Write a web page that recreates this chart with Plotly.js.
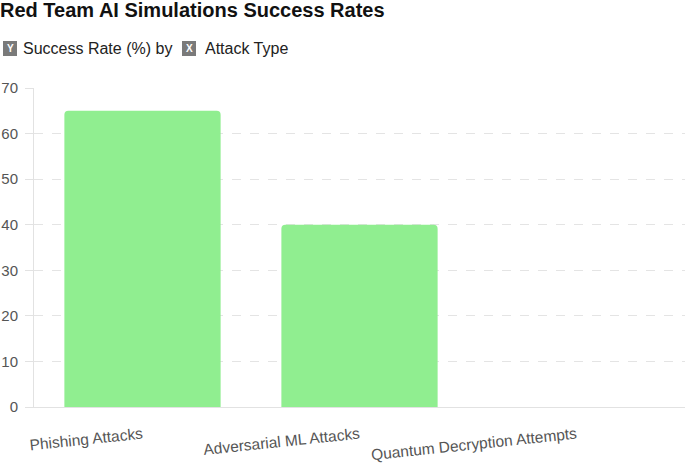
<!DOCTYPE html>
<html>
<head>
<meta charset="utf-8">
<script src="https://cdn.plot.ly/plotly-3.0.1.min.js"></script>
<style>
  html, body { margin: 0; padding: 0; background: #fff; }
  #chart { width: 685px; height: 464px; }
</style>
</head>
<body>
<div id="chart"></div>
<script>
// Attack categories and their simulated success rates (%)
const attackTypes = ["Phishing Attacks", "Adversarial ML Attacks", "Quantum Decryption Attempts"];
const successRates = [65, 40, 0];
const yTicks = [0, 10, 20, 30, 40, 50, 60, 70];

const FONT = "Liberation Sans, Arial, Helvetica, sans-serif";

// plot area geometry used to place the subtitle row in pixels
const W = 685, H = 464;
const M = { l: 34, r: 0, t: 88, b: 57 };
const plotW = W - M.l - M.r, plotH = H - M.t - M.b;
const px = v => (v - M.l) / plotW;          // pixel x -> paper x
const py = v => (H - M.b - v) / plotH;      // pixel y -> paper y

const subtitleY = py(48.5);

// grey square behind an axis letter, sized in pixels
function badgeBox(left) {
  return {
    type: "rect", xref: "paper", yref: "paper",
    xsizemode: "pixel", ysizemode: "pixel",
    xanchor: px(left), yanchor: subtitleY,
    x0: 0, x1: 14, y0: -7.5, y1: 7.5,
    fillcolor: "#7a7a7a", line: { width: 0 }, layer: "above"
  };
}
function badgeLetter(letter, left) {
  return {
    xref: "paper", yref: "paper", x: px(left + 7), y: subtitleY,
    xanchor: "center", yanchor: "middle", showarrow: false,
    text: "<b>" + letter + "</b>",
    font: { family: FONT, size: 10, color: "#fff" }
  };
}
function label(text, left) {
  return {
    xref: "paper", yref: "paper", x: px(left - 2), y: subtitleY,
    xanchor: "left", yanchor: "middle", showarrow: false,
    text: text,
    font: { family: FONT, size: 16, color: "#222" }
  };
}

const trace = {
  type: "bar",
  x: attackTypes,
  y: successRates,
  marker: { color: "#90EE90" },
  hoverinfo: "x+y"
};

const layout = {
  width: W,
  height: H,
  margin: M,
  paper_bgcolor: "#fff",
  plot_bgcolor: "#fff",
  font: { family: FONT, color: "#555" },
  bargap: 0.28,
  barcornerradius: 4,
  showlegend: false,
  title: {
    text: "<b>Red Team AI Simulations Success Rates</b>",
    x: 0, xref: "container", xanchor: "left",
    y: 1, yref: "container", yanchor: "top", pad: { t: 3, l: 0 },
    font: { family: FONT, size: 20, color: "#111" }
  },
  xaxis: {
    type: "category",
    showgrid: false,
    showline: true,
    linecolor: "#e2e2e2",
    linewidth: 1,
    ticks: "",
    tickangle: -6,
    ticklabelstandoff: 12,
    tickfont: { family: FONT, size: 15.5, color: "#555" },
    fixedrange: true
  },
  yaxis: {
    range: [0, 70],
    tickvals: yTicks,
    ticktext: yTicks.map(String),
    showgrid: true,
    gridcolor: "#e4e4e4",
    griddash: "dash",
    gridwidth: 1,
    zeroline: false,
    showline: true,
    linecolor: "#e2e2e2",
    linewidth: 1,
    ticks: "outside",
    ticklen: 8,
    tickcolor: "#e2e2e2",
    ticklabelstandoff: 4,
    tickfont: { family: FONT, size: 15, color: "#555" },
    fixedrange: true
  },
  shapes: [badgeBox(3), badgeBox(182)],
  annotations: [
    badgeLetter("Y", 3),
    label("Success Rate (%) by", 23),
    badgeLetter("X", 182),
    label("Attack Type", 205)
  ]
};

Plotly.newPlot("chart", [trace], layout, { displayModeBar: false, staticPlot: true });
</script>
</body>
</html>
